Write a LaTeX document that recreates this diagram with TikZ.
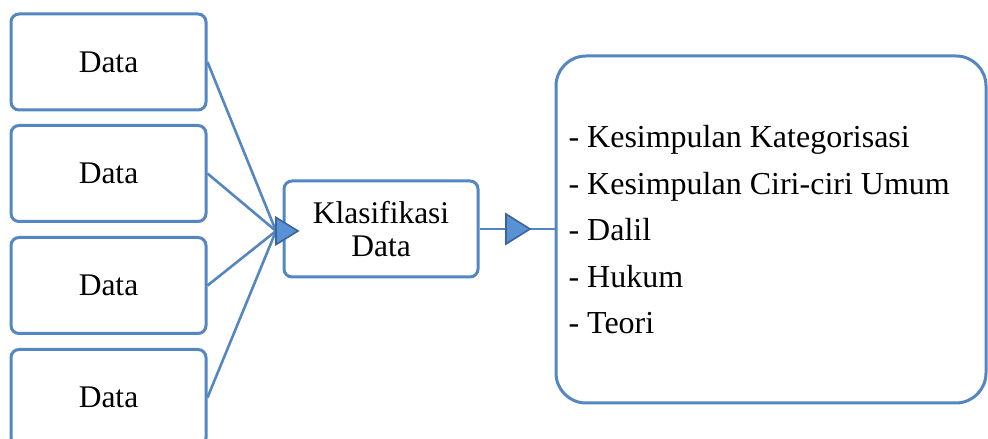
\documentclass[tikz,border=0pt]{standalone}
\usepackage{fontspec}
\setmainfont{Liberation Serif}
\definecolor{boxblue}{RGB}{84,134,194}
\definecolor{trifill}{RGB}{88,146,212}
\definecolor{triedge}{RGB}{60,100,150}
\begin{document}
\begin{tikzpicture}[x=1pt,y=1pt,
  databox/.style={draw=boxblue, line width=3pt, rounded corners=8pt, fill=white,
    minimum width=195pt, minimum height=96pt, inner sep=0pt, font=\fontsize{31.5}{33}\selectfont},
  bigbox/.style={draw=boxblue, line width=3pt, rounded corners=30pt, fill=white,
    minimum width=430pt, minimum height=347pt, inner sep=0pt},
  conn/.style={draw=boxblue, line width=2.6pt},
  tri/.style={fill=trifill, draw=triedge, line width=1.6pt, line join=miter}
]
\useasboundingbox (0,0) rectangle (988,439);
\clip (0,0) rectangle (988,439);
\node[databox] (d1) at (108.5,377) {Data};
\node[databox] (d2) at (108.5,265.5) {Data};
\node[databox] (d3) at (108.5,153.5) {Data};
\node[databox] (d4) at (108.5,41.5) {Data};
\node[databox, minimum width=194pt, align=center] (k) at (381,210) {Klasifikasi\\Data};
\node[bigbox] (b) at (771,209.5) {};
\node[anchor=west, align=left, font=\fontsize{32}{46.5}\selectfont] (t) at (565,209)
  {- Kesimpulan Kategorisasi\\- Kesimpulan Ciri-ciri Umum\\- Dalil\\- Hukum\\- Teori};
\coordinate (j1) at (276,208);
\coordinate (j2) at (506,210);
\foreach \n in {d1,d2,d3,d4} \draw[conn] (\n.east) -- (j1);
\draw[conn] (k.east) -- (b.west |- k.east);
\filldraw[tri] (j1) -- ++(0,13.5) -- ++(22,-13.5) -- ++(-22,-13.5) -- cycle;
\filldraw[tri] (j2) -- ++(0,15) -- ++(24,-15) -- ++(-24,-15) -- cycle;
\end{tikzpicture}
\end{document}
